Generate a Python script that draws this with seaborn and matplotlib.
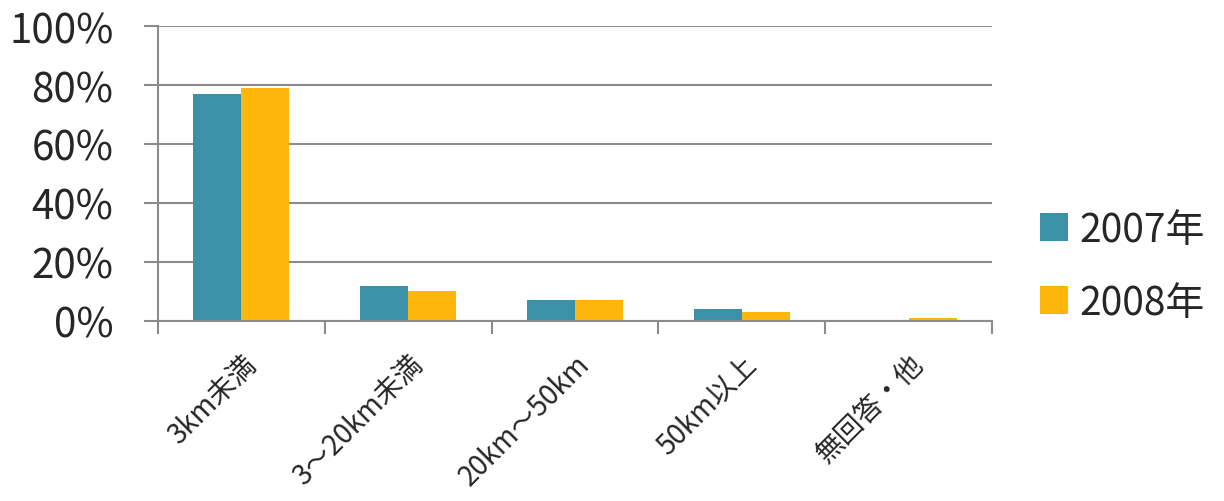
import numpy as np
import pandas as pd
import matplotlib
matplotlib.use("Agg")
import matplotlib.pyplot as plt
import seaborn as sns
from matplotlib.ticker import FixedLocator, PercentFormatter

# distance categories and shares per year (%)
categories = ["3km未満", "3～20km未満", "20km～50km", "50km以上", "無回答・他"]
years = ["2007年", "2008年"]
share_2007 = [77, 12, 7, 4, 0]
share_2008 = [79, 10, 7, 3, 1]
colors = ["#3A91A8", "#FFB60B"]

df = pd.DataFrame({
    "category": categories * 2,
    "year": [years[0]] * len(categories) + [years[1]] * len(categories),
    "share": share_2007 + share_2008,
})

sns.set_theme(style="white")
plt.rcParams["font.family"] = ["Noto Sans CJK JP", "DejaVu Sans"]

fig = plt.figure(figsize=(12.24, 5.02), dpi=100)
ax = fig.add_axes([0.129, 0.3586, 0.6815, 0.5876])

sns.barplot(data=df, x="category", y="share", hue="year", palette=colors,
            width=0.575, gap=0, saturation=1, ax=ax, linewidth=0)

ax.set_ylim(0, 100)
ax.set_xlim(-0.5, len(categories) - 0.5)
ax.set_yticks(np.arange(0, 101, 20))
ax.yaxis.set_major_formatter(PercentFormatter(decimals=0))
ax.yaxis.grid(True, color="#8c8c8c", linewidth=1.5)
ax.set_axisbelow(True)
ax.set_xlabel("")
ax.set_ylabel("")

for s in ["top", "right"]:
    ax.spines[s].set_visible(False)
for s in ["left", "bottom"]:
    ax.spines[s].set_color("#8c8c8c")
    ax.spines[s].set_linewidth(1.5)

ax.tick_params(axis="y", which="major", left=True, length=10, width=1.5,
               color="#8c8c8c", labelsize=29, pad=22)
# category boundary ticks below the x axis
ax.xaxis.set_minor_locator(FixedLocator(np.arange(-0.5, len(categories), 1)))
ax.tick_params(axis="x", which="minor", bottom=True, length=9, width=1.5,
               color="#8c8c8c")
ax.tick_params(axis="x", which="major", bottom=False, labelsize=20, pad=14)
for lbl in ax.get_xticklabels():
    lbl.set_rotation(45)
    lbl.set_ha("right")
    lbl.set_va("top")
    lbl.set_rotation_mode("anchor")

handles, labels = ax.get_legend_handles_labels()
ax.legend(handles, labels, loc="center left", bbox_to_anchor=(0.85, 0.468),
          bbox_transform=fig.transFigure, frameon=False, fontsize=28,
          handlelength=0.7, handleheight=0.7, handletextpad=0.3,
          labelspacing=0.85, borderpad=0, borderaxespad=0)

fig.savefig("out.png", dpi=100)
